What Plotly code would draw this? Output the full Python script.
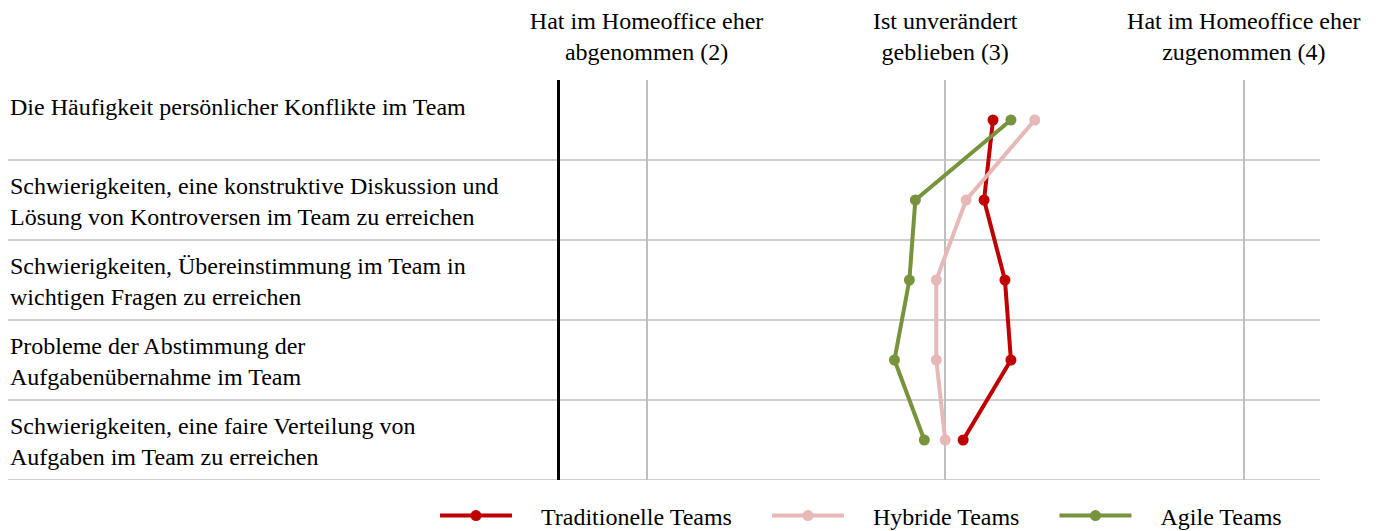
import plotly.graph_objects as go

# Items (top to bottom)
items = [
    "Die Häufigkeit persönlicher Konflikte im Team",
    "Schwierigkeiten, eine konstruktive Diskussion und<br>Lösung von Kontroversen im Team zu erreichen",
    "Schwierigkeiten, Übereinstimmung im Team in<br>wichtigen Fragen zu erreichen",
    "Probleme der Abstimmung der<br>Aufgabenübernahme im Team",
    "Schwierigkeiten, eine faire Verteilung von<br>Aufgaben im Team zu erreichen",
]

traditionelle = [3.16, 3.13, 3.20, 3.22, 3.06]
hybride = [3.30, 3.07, 2.97, 2.97, 3.00]
agile = [3.22, 2.90, 2.88, 2.83, 2.93]

scale_vals = [2, 3, 4]
scale_text = [
    "Hat im Homeoffice eher<br>abgenommen (2)",
    "Ist unverändert<br>geblieben (3)",
    "Hat im Homeoffice eher<br>zugenommen (4)",
]

series = [
    ("Traditionelle Teams", traditionelle, "#C00000"),
    ("Hybride Teams", hybride, "#E6B9B8"),
    ("Agile Teams", agile, "#77933C"),
]

FONT = "Liberation Serif, Times New Roman, serif"
FS = 24
GRID = "#bfbfbf"
NB = "\u00a0"

fig = go.Figure()
for name, vals, color in series:
    fig.add_trace(go.Scatter(
        x=vals, y=items, mode="lines+markers", name=NB * 4 + name + NB * 5,
        line=dict(color=color, width=4),
        marker=dict(color=color, size=11),
    ))

# row separators spanning label area
left_edge = -0.726
for i in range(len(items)):
    fig.add_shape(type="line", xref="paper", yref="y",
                  x0=left_edge, x1=1, y0=i + 0.5, y1=i + 0.5,
                  line=dict(color=GRID, width=1.5), layer="below")

# row labels
for label in items:
    fig.add_annotation(
        x=left_edge, y=label, xref="paper", yref="y",
        text=label, showarrow=False, xanchor="left", align="left",
        yshift=13 if "<br>" not in label else -1,
        font=dict(family=FONT, size=FS, color="#000"),
    )

fig.update_layout(
    width=1378, height=523,
    margin=dict(l=552, r=66, t=72, b=51, autoexpand=False),
    paper_bgcolor="white", plot_bgcolor="white",
    font=dict(family=FONT, size=FS, color="#000"),
    showlegend=True,
    legend=dict(orientation="h", x=-0.1645, xanchor="left", y=-0.09, yanchor="middle",
                font=dict(family=FONT, size=FS), itemwidth=72),
    xaxis=dict(range=[1.71, 4.255], side="top", tickvals=scale_vals, ticktext=scale_text,
               showgrid=True, gridcolor=GRID, gridwidth=1.5, zeroline=False,
               showline=False, ticks="", automargin=False, ticklabelstandoff=14,
               tickfont=dict(family=FONT, size=FS)),
    yaxis=dict(range=[4.5, -0.5], showticklabels=False, showgrid=False, zeroline=False,
               showline=True, linecolor="black", linewidth=2.5, ticks="", automargin=False),
)

fig.write_html("out.html")
